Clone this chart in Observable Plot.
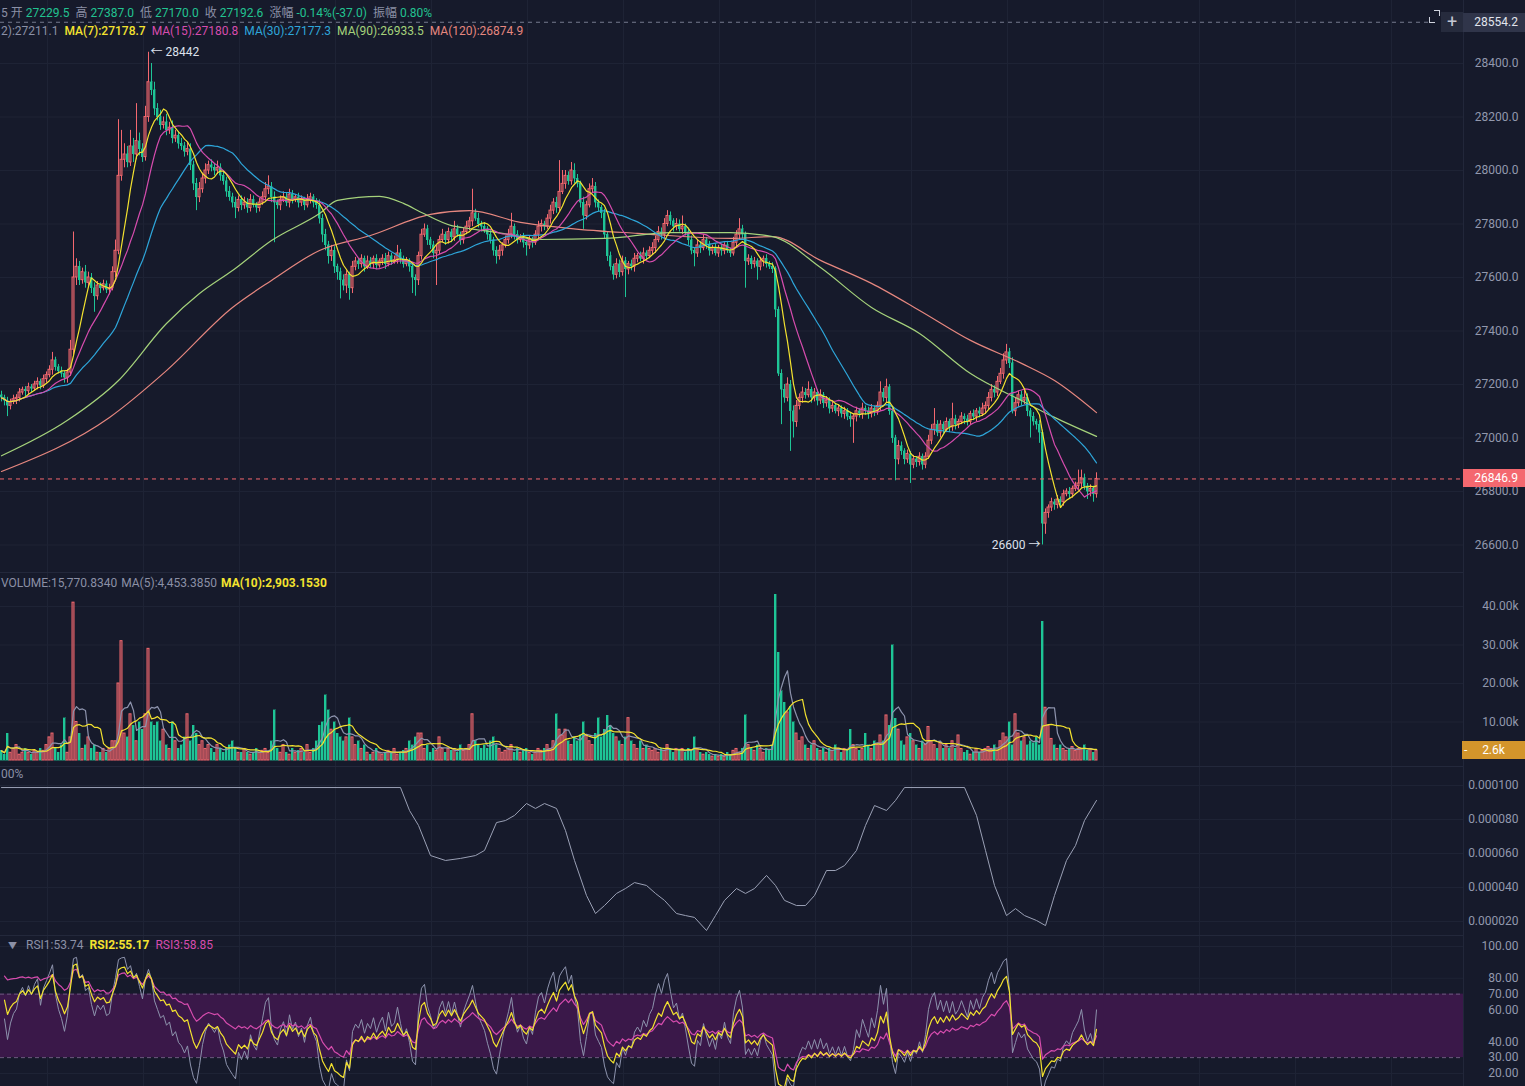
<!DOCTYPE html>
<html><head><meta charset="utf-8">
<script src="https://cdn.jsdelivr.net/npm/d3@7"></script>
<script src="https://cdn.jsdelivr.net/npm/@observablehq/plot@0.6"></script>
<style>
html,body{margin:0;padding:0;background:#161a2b;overflow:hidden}
#root{position:relative;width:1525px;height:1086px;background:#161a2b;font-family:Roboto,"Noto Sans CJK SC",sans-serif;overflow:hidden}
.pane{position:absolute;left:0;width:1525px;overflow:hidden}
.hdr{position:absolute;font-size:12px;white-space:nowrap;color:#8b90a6;line-height:14px}
.hdr span{margin-right:6px}
.hdr span.l{margin-right:3px}
.hdr.v span{margin-right:4px}
.box{position:absolute;font-size:12px;line-height:18px;height:18px;white-space:nowrap}
</style></head><body><div id="root"></div>
<script>
// ---------------- DATA ----------------
const firstOpen = 27160;
const closes = [
27150,27140,27120,27135,27145,27150,27170,27180,27175,27190,
27185,27200,27210,27195,27220,27235,27255,27290,27265,27250,
27240,27225,27245,27330,27600,27640,27590,27620,27580,27600,
27560,27530,27570,27560,27575,27555,27560,27620,27700,27980,
28040,28060,28030,28090,28060,28110,28080,28050,28200,28330,
28300,28230,28200,28170,28180,28150,28160,28120,28130,28100,
28090,28070,28080,28020,27950,27900,27930,27970,28000,28020,
28010,28000,28010,27980,27960,27920,27900,27880,27860,27890,
27870,27880,27860,27890,27870,27860,27880,27900,27930,27940,
27900,27880,27870,27890,27900,27880,27910,27890,27900,27880,
27890,27870,27890,27900,27880,27870,27820,27760,27720,27680,
27700,27640,27620,27590,27570,27610,27560,27640,27660,27650,
27670,27640,27660,27650,27670,27645,27660,27670,27650,27680,
27660,27665,27690,27670,27650,27660,27640,27600,27590,27680,
27760,27780,27740,27720,27690,27700,27740,27760,27740,27770,
27750,27780,27760,27740,27770,27790,27810,27840,27820,27800,
27790,27780,27760,27740,27700,27680,27700,27720,27740,27760,
27790,27760,27740,27750,27730,27720,27740,27730,27760,27790,
27800,27790,27820,27850,27880,27860,27920,27950,27980,27960,
28000,27970,27950,27880,27830,27870,27930,27940,27880,27860,
27840,27760,27680,27640,27610,27650,27620,27660,27630,27650,
27640,27670,27680,27670,27690,27680,27700,27710,27740,27770,
27760,27800,27830,27810,27790,27800,27780,27790,27770,27740,
27700,27690,27720,27710,27740,27720,27700,27710,27690,27710,
27700,27720,27700,27690,27730,27760,27780,27760,27660,27670,
27650,27660,27640,27660,27670,27650,27640,27630,27480,27240,
27180,27150,27200,27100,27060,27120,27150,27170,27160,27180,
27150,27170,27140,27160,27130,27140,27110,27120,27100,27110,
27090,27100,27080,27070,27080,27100,27090,27110,27100,27090,
27110,27100,27120,27170,27150,27190,27100,27000,26920,26970,
26950,26920,26940,26900,26920,26910,26930,26900,26930,26990,
27030,27050,27020,27050,27030,27060,27040,27070,27050,27060,
27080,27070,27060,27090,27080,27100,27090,27110,27120,27150,
27180,27170,27210,27240,27290,27320,27280,27100,27130,27160,
27140,27150,27100,27080,27060,27050,27020,26680,26720,26740,
26760,26750,26770,26760,26790,26800,26790,26810,26820,26830,
26850,26820,26800,26810,26790,26846.9];
// upper / lower wick lengths (price units beyond the body)
const hiWick = [
15,10,12,10,15,12,15,10,12,15, 10,12,15,10,15,12,15,30,12,10,
15,10,12,35,170,30,20,15,25,20, 15,20,15,10,15,12,15,20,40,210,
110,40,30,60,30,140,30,20,40,112, 70,30,20,25,20,30,20,25,20,15,
20,15,25,20,15,20,25,20,25,15, 20,15,25,15,20,15,20,15,20,15,
15,20,15,20,15,10,15,20,25,40, 15,20,10,15,20,15,20,15,10,15,
15,10,20,15,10,15,20,15,20,15, 20,15,10,15,20,15,10,20,15,10,
15,10,20,15,10,15,10,15,20,15, 10,15,30,15,10,15,10,15,10,15,
20,20,15,10,15,20,15,20,10,15, 10,30,15,10,15,20,15,90,15,20,
10,15,10,15,10,15,20,10,15,20, 50,10,15,10,15,10,15,10,15,20,
15,10,15,20,15,20,117,50,20,15, 30,25,15,10,20,15,20,30,15,10,
10,15,10,15,10,20,15,20,15,10, 15,20,10,15,20,10,15,20,15,20,
15,20,20,15,10,20,15,40,10,15, 15,10,20,15,20,10,15,10,15,10,
15,10,15,10,20,15,40,15,10,15, 10,15,10,15,10,15,10,15,10,10,
15,20,25,15,20,20,15,20,15,30, 10,15,10,20,10,15,10,15,10,15,
10,15,10,15,10,15,10,20,10,15, 15,10,15,40,15,30,10,15,10,20,
15,10,15,10,15,10,15,10,15,20, 20,60,15,15,10,15,10,60,15,10,
15,10,15,10,15,10,15,20,15,20, 20,15,20,20,25,30,15,20,20,15,
15,30,15,10,15,10,15,10,15,10, 15,10,15,10,15,10,15,10,15,50,
30,15,10,15,10,23];
const loWick = [
15,20,40,15,10,20,15,10,20,15, 15,10,20,15,10,15,10,20,15,10,
15,20,20,15,20,30,20,15,20,15, 20,60,15,20,10,15,20,10,20,15,
20,30,20,15,30,20,25,20,15,20, 20,25,15,20,15,20,15,20,15,20,
15,20,15,20,25,50,20,15,20,15, 15,20,15,20,15,20,15,20,40,15,
20,15,20,15,10,20,15,10,15,20, 20,150,15,20,10,15,20,15,10,20,
15,20,10,15,20,15,20,30,20,30, 20,25,30,70,20,30,45,20,15,20,
15,20,10,15,20,15,10,15,20,10, 15,10,15,20,15,10,20,60,60,20,
15,10,20,15,20,120,15,10,20,15, 20,15,10,20,15,10,15,20,10,15,
20,15,20,15,20,30,15,20,10,15, 15,20,15,10,20,40,15,20,10,15,
20,15,10,20,15,20,15,10,20,15, 15,20,15,20,50,15,10,15,20,15,
20,15,20,15,20,15,20,15,105,20, 15,20,15,10,20,15,10,15,20,10,
20,15,10,15,20,15,10,20,15,20, 15,50,15,20,10,15,20,15,10,15,
20,15,10,15,10,15,20,15,100,15, 20,15,50,15,20,15,10,15,30,10,
130,20,15,150,60,20,15,20,15,10, 20,15,20,15,20,15,20,15,10,20,
15,20,15,30,90,20,15,20,15,20, 15,20,15,20,15,20,15,20,80,20,
15,20,15,70,15,20,15,20,15,10, 15,20,15,20,15,10,20,15,20,15,
10,20,15,10,15,20,15,10,20,15, 15,20,15,10,20,15,20,10,20,15,
20,15,20,80,15,20,40,80,40,20, 15,20,15,20,15,10,20,15,10,15,
20,15,30,20,30,15];
// volume, thousands
const volumeK = [
2.5,1.5,7,2,3,4,1.5,2,3,2, 1.5,2.5,2,3,2.5,4,6,7,3,2,
4,11,2,6,41,10,7,3,4,6, 3,4,2,2,3,2,3,5,5,20,
31,7,6,12,9,5,10,8,12,29, 10,9,10,5,8,4,3,10,5,3,
4,6,12,5,9,7,4,5,3,4, 3,2,4,3,2,3,4,5,3,2,
2,3,2,1.5,2,3,2,2.5,3,2, 5,13,3,2,4,2,1.5,3,2,2.5,
3,2,4,2,3,5,9,10,17,13, 8,10,7,6,5,6,11,6,4,5,
3,4,2,1.5,2,3,2,1.5,2,2.5, 2,3,1.5,2,2.5,3,5,4,6,7,
7,3,4,2,3,2.5,6,3,2,3, 2.5,3,2,4,2.5,3,4,12,5,4,
3,4,3,5,6,4,3,2,2.5,3, 4,2,3,2,2.5,3,2,1.5,2,3,
2.5,3,4,3,5,12,8,6.5,8,5, 4,6,5,6.5,10,6.5,5,4,7,11,
6,8,11.6,9,7,6,5,4,6,11, 5,4,3,5,3,4,3,2.5,3,2,
3,2.5,4,3,2,3,2.5,3,2,3, 2.5,6,3,2,1.5,2,1.5,1,1.5,1,
1.5,1,2,1.5,2.5,3,2,3,11.7,4, 3,2.5,4,3,2,3,2.5,4,43,28,
18,15,12.5,14,10,7,5,6,4,3, 4,5,3,2.5,3,2,3,2.5,4,3,
2,3,2.5,8,4,3,2.5,3,7,4, 3,5,4,6.5,5,11.7,9,30,10.8,8,
5,4,6,7,5,4,3,5,4,8.7, 5,4,3,4.5,3,4,3,5,3,6.5,
3,2,2.5,1.5,2,3,2,2.5,3,3.5, 3,4,2.5,5,7,6,10,4,12,7,
5,6,4,5,4.5,6,4,36,13.7,9, 5.6,4,3,4,3,2.5,3,3.5,2.5,3,
3,4,2.5,3,2,2.6];
// MA(90) and MA(120) (candle index, price)
const ma90Idx = [0,22,39,55,66,77,90,106,112,126,134,140,150,156,167,179,201,223,243,257,273,290,306,323,340,351,365];
const ma90Val = [26933.5,27066,27215,27428,27540,27626,27738,27839,27888,27903,27877,27843,27794,27783,27765,27742,27746,27768,27768,27753,27637,27488,27391,27241,27140,27077,27006];
const ma120Idx = [0,36,55,77,90,106,123,143,156,173,190,212,243,257,273,290,306,323,340,351,365];
const ma120Val = [26874.9,27077,27252,27488,27589,27701,27757,27836,27850,27806,27783,27765,27746,27753,27664,27578,27477,27365,27279,27215,27095];
// third pane indicator (units of 1e-6)
const indIdx = [0,133,136,139,143,148,153,158,161,165,168,171,175,178,181,185,188,191,195,198,201,205,208,211,215,218,221,225,228,231,235,238,241,245,248,251,255,258,261,265,268,271,275,278,281,285,288,291,295,298,301,321,325,328,331,335,338,341,345,348,351,355,358,361,365];
const indMicro = [98.8,98.8,85.3,76.5,58.8,55.9,57.1,58.8,61.8,78.2,79.4,82.4,89.4,86.5,89.4,86.5,73.5,55.9,35.3,24.7,29.4,36.5,39.4,42.9,41.2,36.5,32.4,24.7,23.5,22.4,14.7,23.5,32.4,39.4,36.5,39.4,47.1,41.2,32.4,29.4,29.4,35.3,50.0,50.0,52.9,61.8,76.5,88.2,85.3,91.2,98.8,98.8,82.4,61.8,41.2,23.5,27.6,23.5,20.6,17.6,35.3,55.9,64.7,79.4,91.2];
const priceTicks = [26600,26800,27000,27200,27400,27600,27800,28000,28200,28400];
const volTicks = [10,20,30,40];
const indTicks = [0.00002,0.00004,0.00006,0.00008,0.0001];
const rsiTicks = [100,80,70,60,40,30,20];
const rsiGrid = [100,80,60,40,20];
const crossPrice = 28554.2;
const highMark = 28442, highIdx = 49;
const lowMark = 26600, lowIdx = 347;

// ---------------- BUILD ----------------
const BG="#161a2b", RED="#f4686f", GREEN="#1ec596", GRID="#1e2335", AXIS="#9298ad";
const YEL="#f3e22f", PINK="#d64cae", BLUE="#2ea6da", LGREEN="#a5d27b", SALMON="#e6877f", GRAY="#8d93ad";
const FONT = 'Roboto,"Noto Sans CJK SC",sans-serif';
const W = 1525;
const XD = [-1/3, 508];           // 3 px per candle
const XR = 1463/3 - 1/3;          // right edge of the plotting area
const H = 1/3;                    // half body width: one pixel
const gridIdx = d3.range(15).map(k => (47 + 96*k - 1)/3);

const candles = closes.map((c,i) => {
  const o = i === 0 ? firstOpen : closes[i-1];
  const hw = hiWick[i] ?? 10, lw = loWick[i] ?? 10;
  return {i, o, c, h: Math.max(o,c)+hw, l: Math.min(o,c)-lw, up: c >= o, v: volumeK[i] ?? 2};
});
const upC = candles.filter(d => d.up), dnC = candles.filter(d => !d.up);
const ma90 = ma90Idx.map((i,k) => ({i, v: ma90Val[k]}));
const ma120 = ma120Idx.map((i,k) => ({i, v: ma120Val[k]}));
const ind = indIdx.map((i,k) => ({i, v: indMicro[k]*1e-6}));

function rsiSeries(cl, n){
  const out = new Array(cl.length).fill(NaN);
  let g=0, a=0; const m = Math.min(n, cl.length-1);
  for (let i=1;i<=m;i++){ const d=cl[i]-cl[i-1]; g+=Math.max(d,0); a+=Math.abs(d); }
  g/=m; a/=m;
  for (let i=1;i<cl.length;i++){ const d=cl[i]-cl[i-1]; g=(Math.max(d,0)+(n-1)*g)/n; a=(Math.abs(d)+(n-1)*a)/n; out[i]= a ? 100*g/a : 50; }
  return out;
}
const r1 = rsiSeries(closes,6), r2 = rsiSeries(closes,12), r3 = rsiSeries(closes,24);
const rsiRows = closes.map((c,i) => ({i, r1:r1[i], r2:r2[i], r3:r3[i]}));

const base = (h) => ({width: W, height: h, margin: 0,
  style: {background: "transparent", fontFamily: FONT, fontSize: "12px", overflow: "hidden"},
  x: {domain: XD, range: [0, W], axis: null}});
const gridMarks = (ticks) => [
  Plot.ruleX(gridIdx, {stroke: GRID}),
  Plot.ruleY(ticks, {x1: XD[0], x2: XR, stroke: GRID}),
  Plot.ruleX([XR], {stroke: "#22273a"})
];
const axisText = (ticks, fmt) => Plot.text(ticks, {y: d => d, text: fmt, frameAnchor: "right", textAnchor: "end", dx: -7, fill: AXIS, fontSize: 12});
const ma = (k, color, data, ykey) => Plot.lineY(data, Plot.windowY({k, anchor: "end", reduce: "mean"}, {x: "i", y: ykey, stroke: color, strokeWidth: 1.2}));

const last = closes[closes.length-1];
const p1 = Plot.plot({...base(572),
  y: {domain: [26600, 28400], range: [544.5, 63], axis: null},
  marks: [
    ...gridMarks(priceTicks),
    Plot.ruleX(upC, {x: "i", y1: "h", y2: d => Math.max(d.o,d.c), stroke: RED}),
    Plot.ruleX(upC, {x: "i", y1: d => Math.min(d.o,d.c), y2: "l", stroke: RED}),
    Plot.ruleX(dnC, {x: "i", y1: "h", y2: "l", stroke: GREEN}),
    Plot.rect(dnC, {x1: d => d.i-H, x2: d => d.i+H, y1: "o", y2: "c", fill: GREEN, stroke: GREEN, strokeWidth: 0.4, shapeRendering: "crispEdges"}),
    Plot.rect(upC, {x1: d => d.i-H, x2: d => d.i+H, y1: "o", y2: "c", fill: RED, fillOpacity: 0.3, stroke: RED, strokeWidth: 1}),
    Plot.line(ma120, {x: "i", y: "v", stroke: SALMON, strokeWidth: 1.2, curve: "monotone-x"}),
    Plot.line(ma90, {x: "i", y: "v", stroke: LGREEN, strokeWidth: 1.2, curve: "monotone-x"}),
    ma(30, BLUE, candles, "c"),
    ma(15, PINK, candles, "c"),
    ma(7, YEL, candles, "c"),
    Plot.ruleY([last], {x1: XD[0], x2: XR, stroke: RED, strokeDasharray: "4,4"}),
    Plot.ruleY([crossPrice], {x1: XD[0], x2: 1428/3 - 1/3, stroke: "#8d92a6", strokeDasharray: "4,4", strokeOpacity: 0.8}),
    axisText(priceTicks, d => d.toFixed(1)),
    Plot.text([{i: highIdx, p: highMark}], {x: "i", y: "p", text: d => "\u2190 " + d.p, textAnchor: "start", dx: 2, fill: "#dde1ec", fontSize: 12}),
    Plot.text([{i: lowIdx, p: lowMark}], {x: "i", y: "p", text: d => d.p + " \u2192", textAnchor: "end", dx: -2, fill: "#dde1ec", fontSize: 12})
  ]});

const p2 = Plot.plot({...base(194),
  y: {domain: [0, 40], range: [188, 34], axis: null},
  marks: [
    ...gridMarks(volTicks),
    Plot.rect(dnC, {x1: d => d.i-H, x2: d => d.i+H, y1: 0, y2: "v", fill: GREEN, stroke: GREEN, strokeWidth: 0.4, shapeRendering: "crispEdges"}),
    Plot.rect(upC, {x1: d => d.i-H, x2: d => d.i+H, y1: 0, y2: "v", fill: RED, fillOpacity: 0.3, stroke: RED, strokeWidth: 1}),
    ma(5, GRAY, candles, "v"),
    ma(10, YEL, candles, "v"),
    axisText(volTicks, d => d.toFixed(2) + "k")
  ]});

const p3 = Plot.plot({...base(169),
  y: {domain: [0.00002, 0.0001], range: [155, 19], axis: null},
  marks: [
    ...gridMarks(indTicks),
    Plot.line(ind, {x: "i", y: "v", stroke: "#9aa0b5", strokeWidth: 1}),
    axisText(indTicks, d => d.toFixed(6))
  ]});

const p4 = Plot.plot({...base(151),
  y: {domain: [20, 100], range: [138, 11], axis: null},
  marks: [
    ...gridMarks(rsiGrid),
    Plot.rect([0], {x1: XD[0], x2: XR, y1: 30, y2: 70, fill: "#3a1849"}),
    Plot.ruleY([30, 70], {x1: XD[0], x2: XR, stroke: "#6d5a80", strokeDasharray: "4,3"}),
    Plot.line(rsiRows, {x: "i", y: "r1", stroke: GRAY, strokeWidth: 1}),
    Plot.line(rsiRows, {x: "i", y: "r3", stroke: PINK, strokeWidth: 1.2}),
    Plot.line(rsiRows, {x: "i", y: "r2", stroke: YEL, strokeWidth: 1.2}),
    axisText(rsiTicks, d => d.toFixed(2))
  ]});

const root = document.getElementById("root");
const panes = [[p1,0,572],[p2,572,194],[p3,766,169],[p4,935,151]];
for (const [p,top,h] of panes) {
  const d = document.createElement("div"); d.className = "pane";
  d.style.top = top + "px"; d.style.height = h + "px";
  d.appendChild(p); root.appendChild(d);
}
for (const y of [572, 766, 935]) {
  const s = document.createElement("div");
  s.style.cssText = `position:absolute;left:0;top:${y}px;width:1463px;height:1px;background:#23283b`;
  root.appendChild(s);
}
function addHTML(html){ root.insertAdjacentHTML("beforeend", html); }
const G = "#22c391";
addHTML(`<div class="hdr" style="left:1px;top:6px"><span class="l">5</span><span class="l">开</span><span style="color:${G}">27229.5</span><span class="l">高</span><span style="color:${G}">27387.0</span><span class="l">低</span><span style="color:${G}">27170.0</span><span class="l">收</span><span style="color:${G}">27192.6</span><span class="l">涨幅</span><span style="color:${G}">-0.14%(-37.0)</span><span class="l">振幅</span><span style="color:${G}">0.80%</span></div>`);
addHTML(`<div class="hdr" style="left:1px;top:24px"><span>2):27211.1</span><span style="color:${YEL};font-weight:500">MA(7):27178.7</span><span style="color:${PINK}">MA(15):27180.8</span><span style="color:${BLUE}">MA(30):27177.3</span><span style="color:${LGREEN}">MA(90):26933.5</span><span style="color:${SALMON}">MA(120):26874.9</span></div>`);
addHTML(`<div class="hdr v" style="left:1px;top:576px"><span>VOLUME:15,770.8340</span><span>MA(5):4,453.3850</span><span style="color:${YEL};font-weight:bold">MA(10):2,903.1530</span></div>`);
addHTML(`<div class="hdr" style="left:1px;top:767px">00%</div>`);
addHTML(`<div class="hdr" style="left:8px;top:938px"><span style="font-size:9px;margin-right:9px">&#9660;</span><span>RSI1:53.74</span><span style="color:${YEL};font-weight:bold">RSI2:55.17</span><span style="color:${PINK}">RSI3:58.85</span></div>`);

const yLast = p1.scale("y").apply(last);
addHTML(`<div class="box" style="left:1463px;top:${yLast-9}px;width:55px;padding-right:7px;text-align:right;background:${RED};color:#fff">${last.toFixed(1)}</div>`);
const yCross = p1.scale("y").apply(crossPrice);
addHTML(`<div class="box" style="left:1463px;top:${yCross-9}px;height:19px;line-height:19px;width:55px;padding-right:7px;text-align:right;background:#30354a;color:#e2e5ee">${crossPrice.toFixed(1)}</div>`);
addHTML(`<div style="position:absolute;left:1441px;top:${yCross-10}px;width:22px;height:20px;background:#262b3d;color:#c3c7d3;font-size:18px;line-height:19px;text-align:center">+</div>`);
addHTML(`<div style="position:absolute;left:1429px;top:${yCross-11}px;width:5px;height:5px;border-left:1px solid #cfd3de;border-bottom:1px solid #cfd3de;transform:translateY(6px)"></div><div style="position:absolute;left:1434px;top:${yCross-12}px;width:5px;height:5px;border-top:1px solid #cfd3de;border-right:1px solid #cfd3de"></div>`);
const lastVol = volumeK[volumeK.length-1];
const yVol = 572 + p2.scale("y").apply(lastVol);
addHTML(`<div class="box" style="left:1462px;top:${yVol-9}px;width:63px;text-align:center;background:#d3952b;color:#fff"><span style="position:absolute;left:2px;color:#fff">-</span>${lastVol.toFixed(1)}k</div>`);
</script></body></html>
